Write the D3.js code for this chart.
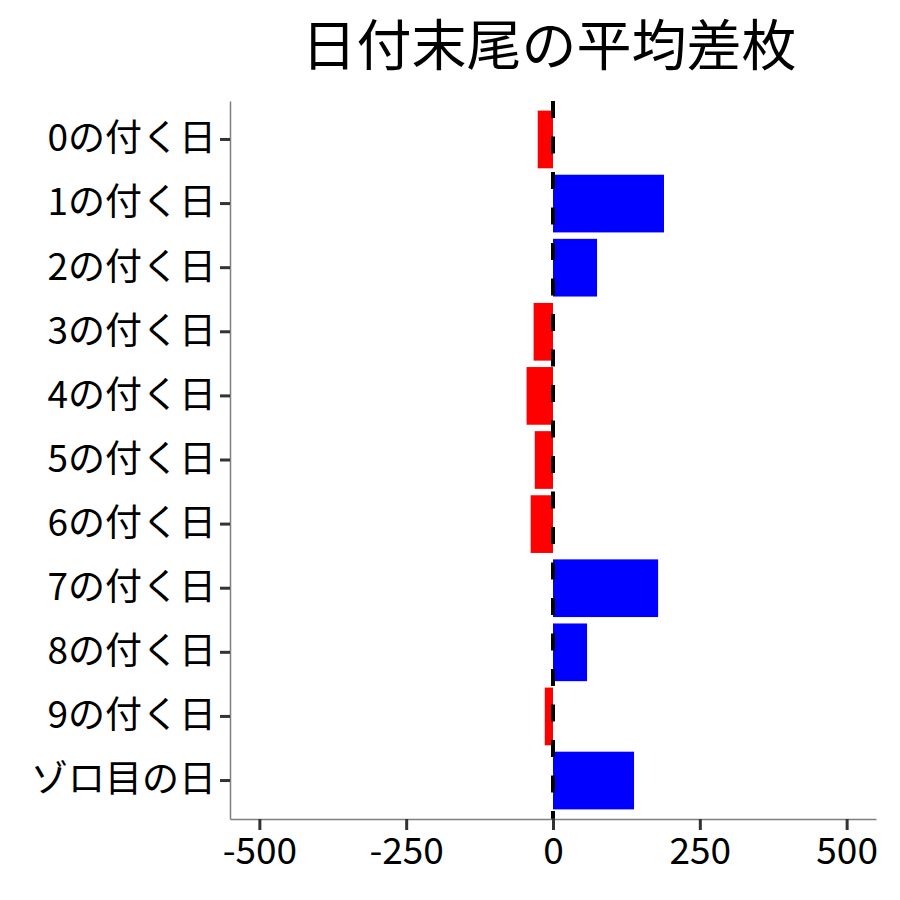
<!DOCTYPE html>
<html>
<head>
<meta charset="utf-8">
<script src="https://cdn.jsdelivr.net/npm/d3@7"></script>
<style>
  body { margin: 0; background: #fff; }
  text { font-family: "Noto Sans CJK JP", "Noto Sans", sans-serif; }
</style>
</head>
<body>
<div id="chart"></div>
<script>
// data
var categories = ["0の付く日", "1の付く日", "2の付く日", "3の付く日", "4の付く日",
                  "5の付く日", "6の付く日", "7の付く日", "8の付く日", "9の付く日", "ゾロ目の日"];
var values = [-26, 189, 75, -33, -45, -31, -38, 179, 58, -14, 138];
var xTicks = [-500, -250, 0, 250, 500];
var title = "日付末尾の平均差枚";

var width = 900, height = 900;
var margin = {top: 101, right: 24, bottom: 81, left: 230};

var svg = d3.select("#chart").append("svg")
    .attr("width", width)
    .attr("height", height);

var x = d3.scaleLinear()
    .domain([-550, 550])
    .range([margin.left, width - margin.right]);

// ggplot style: 0.6 expansion on each side, bar width 0.9
var y = d3.scaleBand()
    .domain(categories)
    .range([margin.top, height - margin.bottom])
    .paddingInner(0.1)
    .paddingOuter(0.15);

svg.append("g")
  .selectAll("rect")
  .data(values)
  .enter()
  .append("rect")
    .attr("x", function(d) { return x(Math.min(0, d)); })
    .attr("y", function(d, i) { return y(categories[i]); })
    .attr("width", function(d) { return Math.abs(x(d) - x(0)); })
    .attr("height", y.bandwidth())
    .attr("fill", function(d) { return d < 0 ? "#FF0000" : "#0000FF"; });

// zero reference line
svg.append("line")
    .attr("x1", x(0)).attr("x2", x(0))
    .attr("y1", margin.top).attr("y2", height - margin.bottom)
    .attr("stroke", "#000")
    .attr("stroke-width", 4)
    .attr("stroke-dasharray", "17,18.5");

// axes
var xAxis = svg.append("g")
    .attr("transform", "translate(0," + (height - margin.bottom) + ")")
    .call(d3.axisBottom(x).tickValues(xTicks).tickSize(11).tickSizeOuter(0).tickPadding(8)
          .tickFormat(function(d) { return String(d); }));

var yAxis = svg.append("g")
    .attr("transform", "translate(" + margin.left + ",0)")
    .call(d3.axisLeft(y).tickSize(10).tickSizeOuter(0).tickPadding(4));

[xAxis, yAxis].forEach(function(ax) {
  ax.select(".domain").attr("stroke", "#7f7f7f").attr("stroke-width", 1.5);
  ax.selectAll(".tick line").attr("stroke", "#333").attr("stroke-width", 3);
  ax.selectAll(".tick text")
    .attr("fill", "#000")
    .style("font-size", "37px")
    .style("font-family", '"Noto Sans CJK JP", sans-serif');
});

svg.append("text")
    .attr("x", x(0) - 4)
    .attr("y", 65)
    .attr("text-anchor", "middle")
    .style("font-size", "55px")
    .text(title);
</script>
</body>
</html>
